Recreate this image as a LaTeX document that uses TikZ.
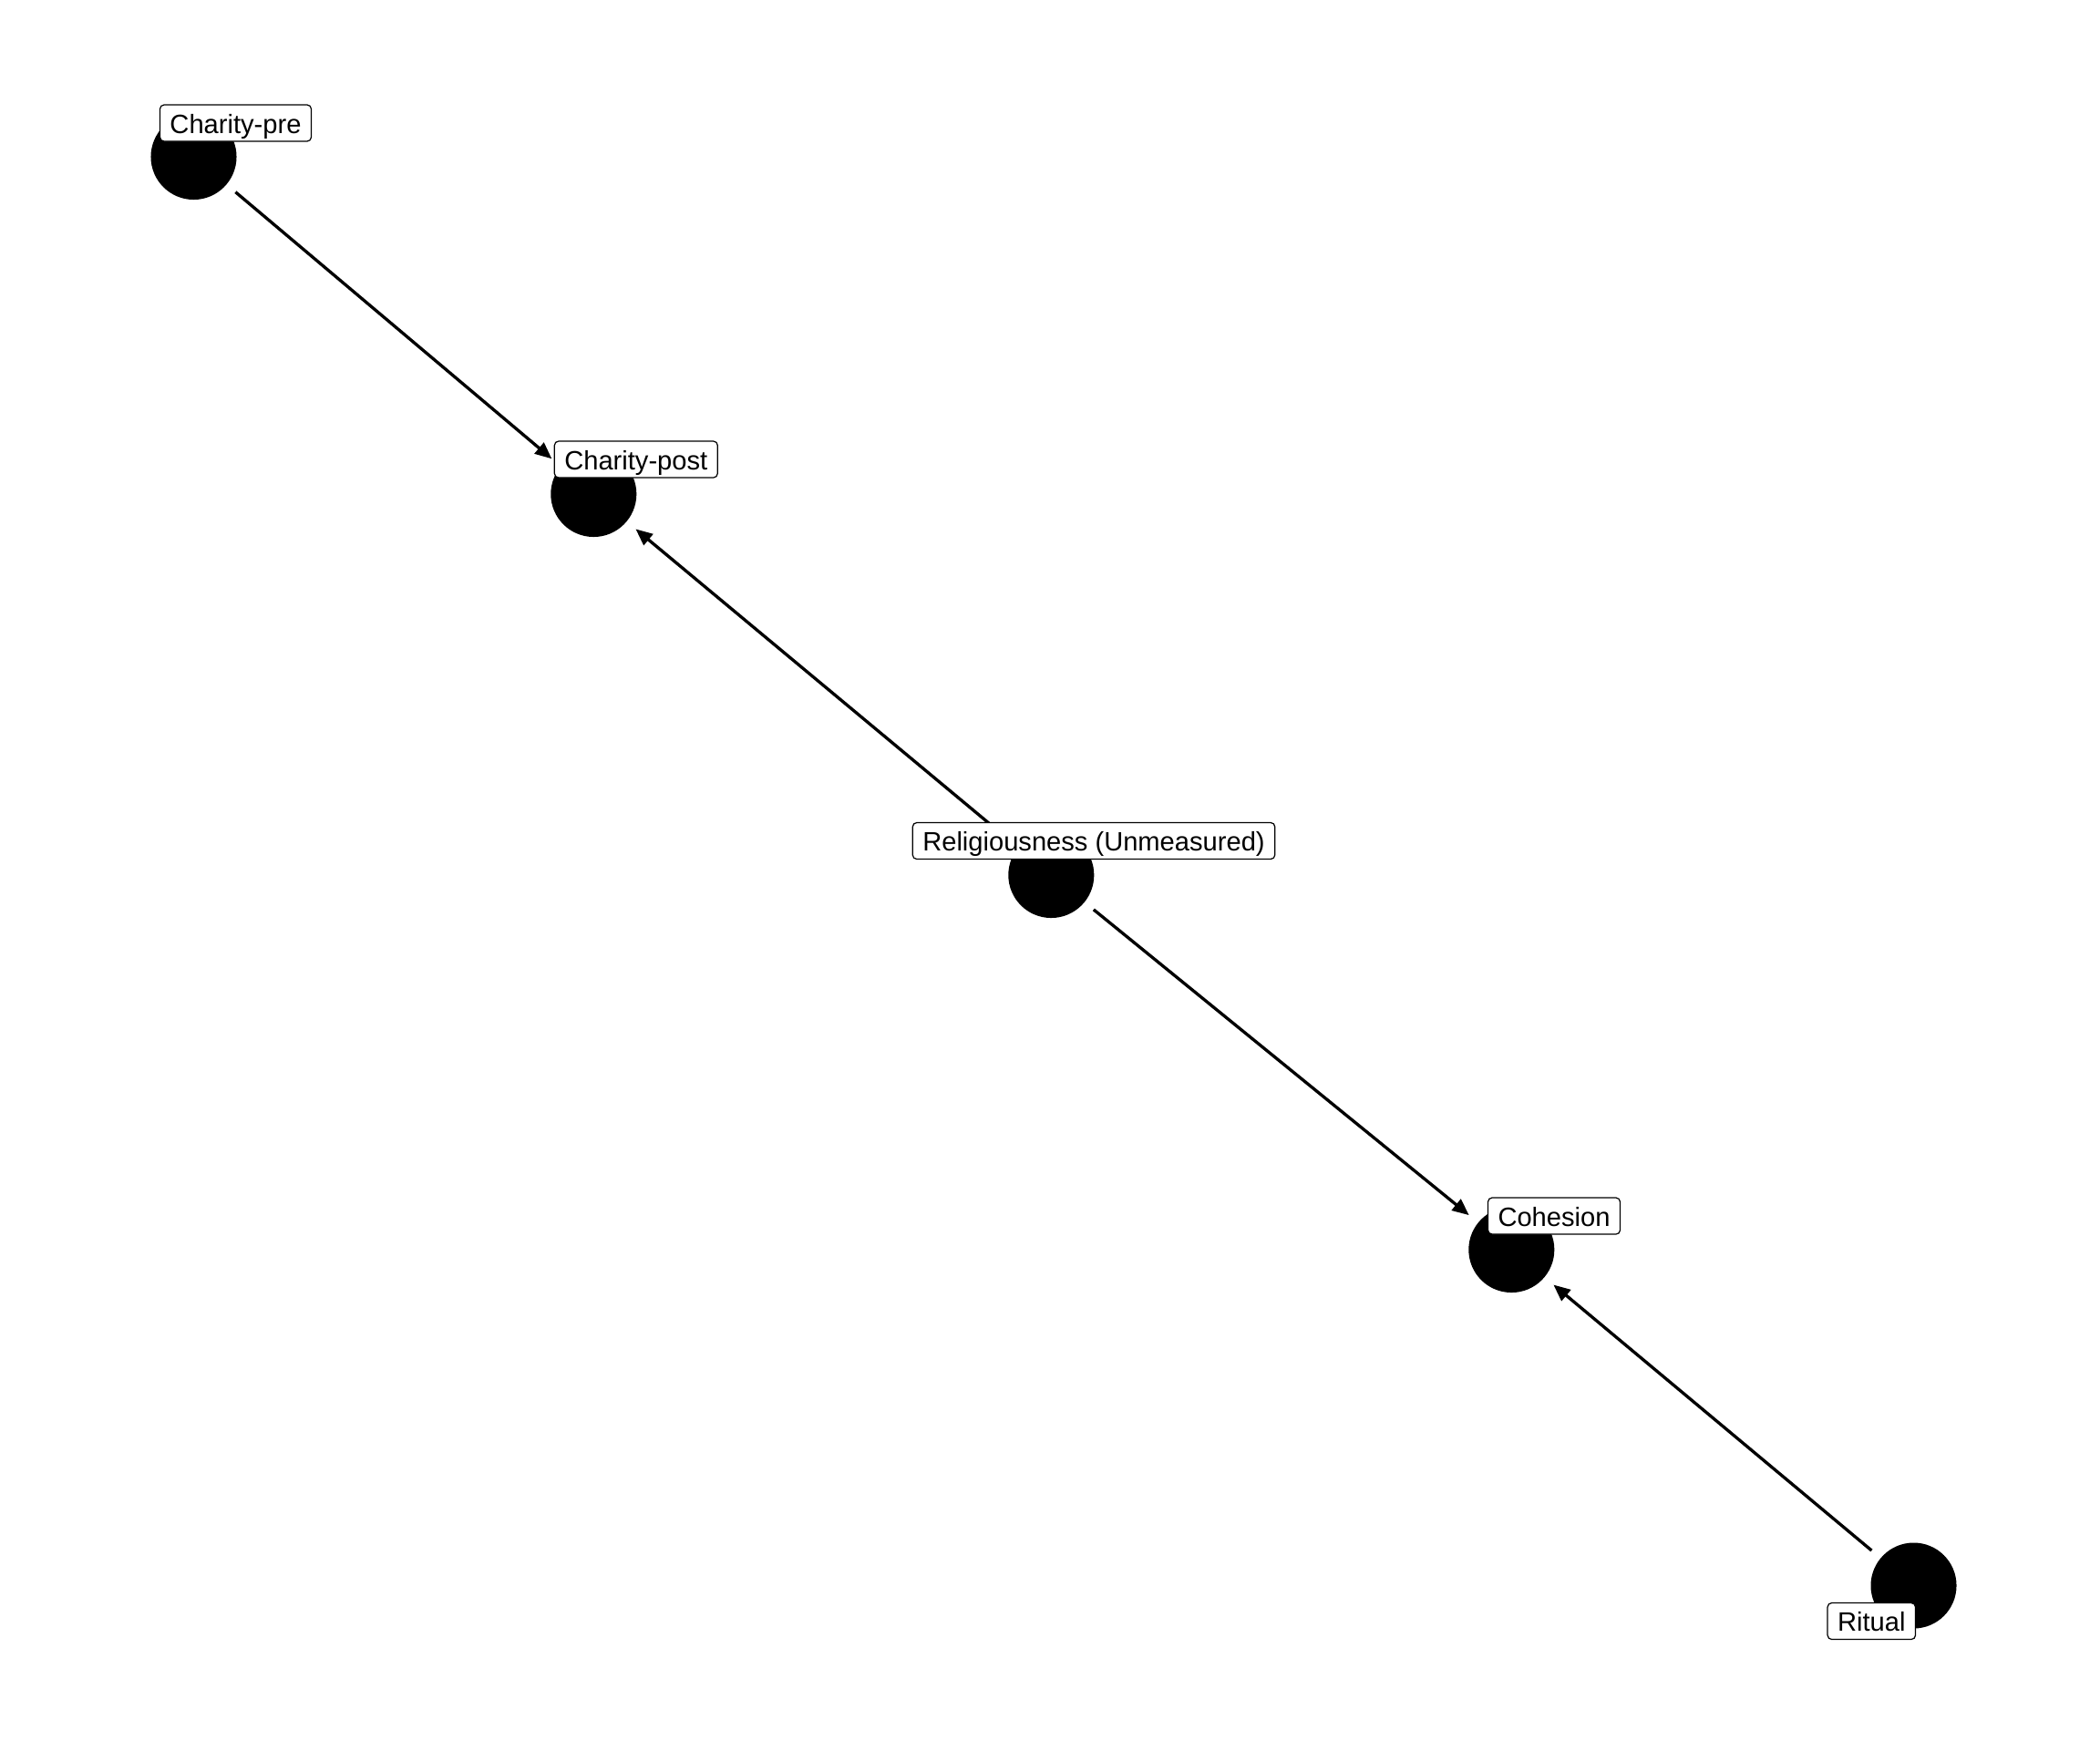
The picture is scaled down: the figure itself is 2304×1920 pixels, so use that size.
\documentclass[tikz,border=0pt]{standalone}
\usepackage{fontspec}
\setmainfont{Liberation Sans}
\usetikzlibrary{arrows.meta}
\tikzset{
  dot/.style={circle, fill=black, draw=none, minimum size=0.94cm, inner sep=0pt, outer sep=0.13cm},
  lbl/.style={draw=black, fill=white, line width=0.35pt, rounded corners=1.3pt,
    font=\fontsize{8.28pt}{9pt}\selectfont, text height=0.31cm, text depth=0.09cm,
    inner ysep=0pt, inner xsep=0.11cm, outer sep=0pt},
  edge/.style={line width=0.95pt, -{Triangle[length=5.2pt, width=4.4pt]}}
}
\begin{document}
\begin{tikzpicture}[x=0.01cm, y=-0.01cm]
\useasboundingbox (0,0) rectangle (2304,1920);
\node[dot] (pre) at (212.5,172) {};
\node[dot] (post) at (651.3,542) {};
\node[dot] (rel) at (1153.3,960) {};
\node[dot] (coh) at (1658.3,1371) {};
\node[dot] (rit) at (2099.5,1739.5) {};
\draw[edge] (pre) -- (post);
\draw[edge] (rel) -- (post);
\draw[edge] (rel) -- (coh);
\draw[edge] (rit) -- (coh);
\node[lbl] (lpre) at (258.5,135) {Charity-pre};
\node[lbl] (lpost) at (697.8,504) {Charity-post};
\node[lbl] (lrel) at (1200,922.5) {Religiousness (Unmeasured)};
\node[lbl] (lcoh) at (1705,1334) {Cohesion};
\node[lbl] (lrit) at (2053.3,1778.5) {Ritual};
\end{tikzpicture}
\end{document}
